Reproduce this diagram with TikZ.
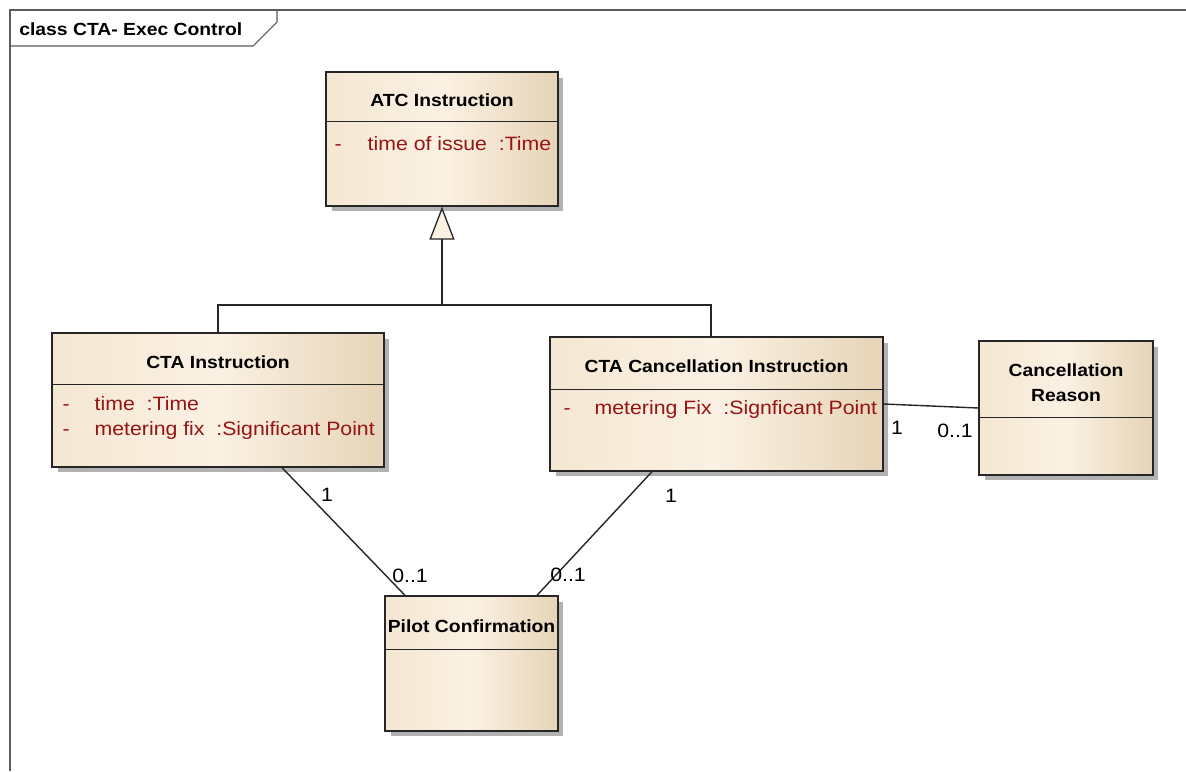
\documentclass[tikz,border=0pt]{standalone}
\usepackage{fontspec}
\setmainfont{Liberation Sans}[FakeStretch=1.1]
\usetikzlibrary{arrows.meta, shadows}

\definecolor{umlleft}{RGB}{244,231,210}
\definecolor{umlmid}{RGB}{251,241,227}
\definecolor{umlright}{RGB}{230,212,183}
\definecolor{attrred}{RGB}{150,20,20}
\definecolor{framegray}{RGB}{90,90,90}

\begin{document}
\begin{tikzpicture}[
    x=0.02cm, y=-0.02cm,
    classbox/.style={rectangle, draw=black!85, line width=0.75pt, left color=umlleft, right color=umlright, middle color=umlmid, drop shadow={shadow xshift=0.11cm, shadow yshift=-0.11cm, fill=black!30, opacity=1}, inner sep=0pt, minimum height=2.68cm},
    classname/.style={font=\bfseries\fontsize{10}{14.2}\selectfont, align=center, inner sep=0pt},
    attrib/.style={font=\fontsize{11}{14.2}\selectfont, text=attrred, align=left, anchor=west, inner sep=0pt},
    mult/.style={font=\fontsize{11}{13}\selectfont, inner sep=0pt},
    assoc/.style={line width=0.8pt, black!85},
    gen/.style={line width=0.75pt, black!85, -{Triangle[length=0.66cm, width=0.5cm, fill=umlmid, line width=0.75pt]}}
]
\useasboundingbox[fill=white] (0,0) rectangle (1186,771);

% Diagram frame
\draw[framegray, line width=0.6pt] (1186,10) -- (10,10) -- (10,771);
\draw[framegray, line width=0.6pt] (10,46) -- (253,46) -- (277,22) -- (277,10);
\node[classname, anchor=west] (frametitle) at (19,29) {class CTA- Exec Control};

% Classes
\node[classbox, minimum width=4.64cm] (atc) at (442,139) {};
\draw[black!85, line width=0.75pt] ([yshift=-1.0cm]atc.north west) -- ([yshift=-1.0cm]atc.north east);
\node[classname] (atc-name) at ([yshift=-0.58cm]atc.north) {ATC Instruction};
\node[attrib] (atc-attr) at ([xshift=0.18cm, yshift=-1.44cm]atc.north west) {\makebox[0.66cm][l]{-}time of issue~~:Time};

\node[classbox, minimum width=6.64cm] (cta) at (218,400) {};
\draw[black!85, line width=0.75pt] ([yshift=-1.04cm]cta.north west) -- ([yshift=-1.04cm]cta.north east);
\node[classname] (cta-name) at ([yshift=-0.6cm]cta.north) {CTA Instruction};
\node[attrib] (cta-attr) at ([xshift=0.22cm, yshift=-1.71cm]cta.north west) {\makebox[0.64cm][l]{-}time~~:Time\\\makebox[0.64cm][l]{-}metering fix~~:Significant Point};

\node[classbox, minimum width=6.66cm] (cancel) at (716.5,404) {};
\draw[black!85, line width=0.75pt] ([yshift=-1.06cm]cancel.north west) -- ([yshift=-1.06cm]cancel.north east);
\node[classname] (cancel-name) at ([yshift=-0.6cm]cancel.north) {CTA Cancellation Instruction};
\node[attrib] (cancel-attr) at ([xshift=0.28cm, yshift=-1.46cm]cancel.north west) {\makebox[0.62cm][l]{-}metering Fix~~:Signficant Point};

\node[classbox, minimum width=3.48cm] (reason) at (1066,408) {};
\draw[black!85, line width=0.75pt] ([yshift=-1.54cm]reason.north west) -- ([yshift=-1.54cm]reason.north east);
\node[classname] (reason-name) at ([yshift=-0.85cm]reason.north) {Cancellation\\Reason};

\node[classbox, minimum width=3.46cm, minimum height=2.7cm] (pilot) at (471.5,663.5) {};
\draw[black!85, line width=0.75pt] ([yshift=-1.08cm]pilot.north west) -- ([yshift=-1.08cm]pilot.north east);
\node[classname] (pilot-name) at ([yshift=-0.62cm]pilot.north) {Pilot Confirmation};

% Generalization
\coordinate (genjoin) at (442,305);
\draw[assoc] (cta.north) |- (genjoin) -| ([xshift=-0.11cm]cancel.north);
\draw[gen] (genjoin) -- (atc.south);

% Associations
\draw[assoc] ([xshift=1.28cm]cta.south) -- ([xshift=-1.33cm]pilot.north);
\draw[assoc] ([xshift=-1.29cm]cancel.south) -- ([xshift=1.31cm]pilot.north);
\draw[assoc] (cancel.east) -- (reason.west);

% Multiplicities
\node[mult] (m-cta) at (327,495) {1};
\node[mult] (m-pilot1) at (410,576) {0..1};
\node[mult] (m-cancel) at (671,496) {1};
\node[mult] (m-pilot2) at (568,575) {0..1};
\node[mult] (m-cancel2) at (897,428) {1};
\node[mult] (m-reason) at (955,431) {0..1};

\end{tikzpicture}
\end{document}
